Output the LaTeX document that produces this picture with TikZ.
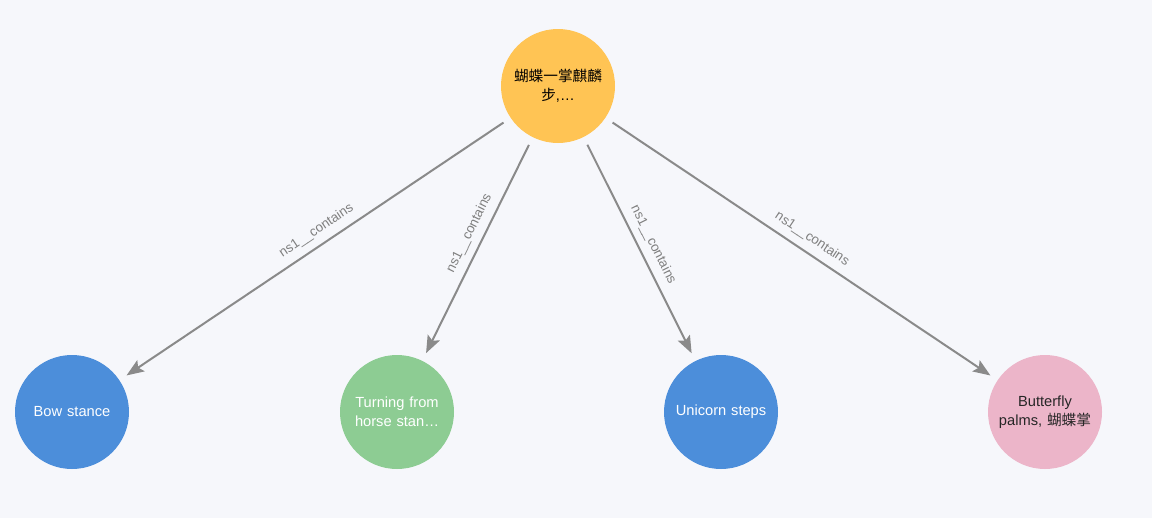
\documentclass[tikz,border=0pt]{standalone}
\usepackage{fontspec}
\setmainfont{Liberation Sans}
\newfontfamily\cjk{Noto Sans CJK SC}
\usetikzlibrary{arrows.meta}
\definecolor{bgcol}{HTML}{F6F7FB}
\definecolor{edgecol}{HTML}{8A8A8A}
\definecolor{labelcol}{HTML}{7F7F7F}
\definecolor{topcol}{HTML}{FFC454}
\definecolor{bluecol}{HTML}{4C8EDA}
\definecolor{greencol}{HTML}{8DCC93}
\definecolor{pinkcol}{HTML}{ECB5C9}
\tikzset{%
  topic/.style   = {circle, inner sep=0pt, minimum size=85.5pt,%
                    outer sep=6.5pt, align=center, text width=70pt,%
                    font=\fontsize{11}{14}\selectfont},%
  source/.style  = {topic, fill=topcol, text=black},%
  stance/.style  = {topic, fill=bluecol, text=white},%
  turning/.style = {topic, fill=greencol, text=white},%
  palm/.style    = {topic, fill=pinkcol, text=black!85},%
  link/.style    = {draw=edgecol, line width=1.5pt,%
                    -{Stealth[length=13pt, width=10pt, inset=2.5pt]}},%
  linklabel/.style = {sloped, above=2pt, text=labelcol,%
                      font=\fontsize{10}{12}\selectfont}%
}
\begin{document}
\begin{tikzpicture}[x=0.75pt, y=-0.75pt]
	\useasboundingbox[fill=bgcol] (0,0) rectangle (1152,518);
	% centre node
	\node [source] (form) at (558,86) {{\cjk 蝴蝶一掌麒麟}\\{\cjk 步},…};
	% contained movements
	\node [stance]  (bow)       at (72,412)   {Bow stance};
	\node [turning] (horse)     at (397,412)  {Turning from horse stan…};
	\node [stance]  (unicorn)   at (721,412)  {Unicorn steps};
	\node [palm]    (butterfly) at (1045,412) {Butterfly palms, {\cjk 蝴蝶掌}};
	% edges
	\foreach \target/\where in {bow/0.475,horse/0.455,unicorn/0.51,butterfly/0.507}
		\draw [link] (form) -- (\target)
			node [linklabel, pos=\where] {ns1\_\_contains};
\end{tikzpicture}
\end{document}
